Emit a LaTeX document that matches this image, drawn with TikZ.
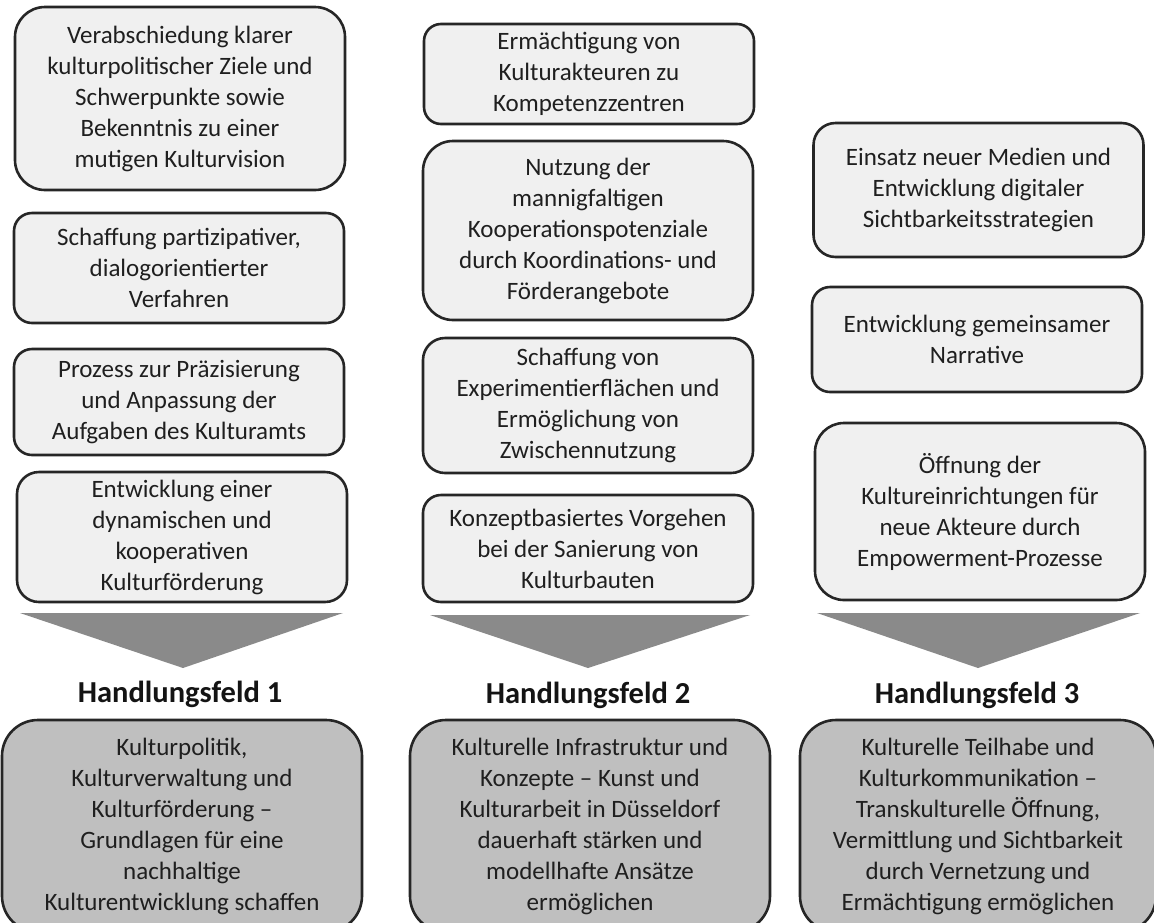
\documentclass[tikz,border=0pt]{standalone}
\usepackage{fontspec}
\setmainfont{Carlito}
\usetikzlibrary{positioning}

\begin{document}
\begin{tikzpicture}[x=1pt,y=-1pt]
    \tikzstyle{massnahme}=[
        draw=black!85,
        line width=2.6pt,
        fill=gray!12,
        text=black!88,
        align=center,
        inner sep=0pt,
        minimum width=330pt,
        font=\fontsize{25}{31}\selectfont]
    \tikzstyle{feld}=[massnahme,fill=gray!50,rounded corners=36pt,minimum height=212pt]
    \tikzstyle{titel}=[text=black!92,font=\fontsize{30.5}{36}\selectfont\bfseries]
    \tikzstyle{pfeil}=[fill=black!46]

    \clip (0,0) rectangle (1154,922);

    \node[massnahme] [rounded corners=30pt,minimum height=183pt] (a1) at (180,98.5)
        {Verabschiedung klarer\\kulturpolitischer Ziele und\\Schwerpunkte sowie\\Bekenntnis zu einer\\mutigen Kulturvision};
    \node[massnahme] [rounded corners=18pt,minimum height=110pt] (a2) at (179,268)
        {Schaffung partizipativer,\\dialogorientierter\\Verfahren};
    \node[massnahme] [rounded corners=18pt,minimum height=106pt] (a3) at (179,402)
        {Prozess zur Präzisierung\\und Anpassung der\\Aufgaben des Kulturamts};
    \node[massnahme] [rounded corners=22pt,minimum height=130pt] (a4) at (182,537)
        {Entwicklung einer\\dynamischen und\\kooperativen\\Kulturförderung};

    \node[massnahme] [rounded corners=17pt,minimum height=100pt] (b1) at (589,74)
        {Ermächtigung von\\Kulturakteuren zu\\Kompetenzzentren};
    \node[massnahme] [rounded corners=30pt,minimum height=179pt] (b2) at (588,230.5)
        {Nutzung der\\mannigfaltigen\\Kooperationspotenziale\\durch Koordinations- und\\Förderangebote};
    \node[massnahme] [rounded corners=22pt,minimum height=135pt] (b3) at (588,405.5)
        {Schaffung von\\Experimentierflächen und\\Ermöglichung von\\Zwischennutzung};
    \node[massnahme] [rounded corners=18pt,minimum height=107pt] (b4) at (588,548.5)
        {Konzeptbasiertes Vorgehen\\bei der Sanierung von\\Kulturbauten};

    \node[massnahme] [rounded corners=22pt,minimum height=134pt] (c1) at (978.5,190)
        {Einsatz neuer Medien und\\Entwicklung digitaler\\Sichtbarkeitsstrategien};
    \node[massnahme] [rounded corners=18pt,minimum height=105pt] (c2) at (977,339.5)
        {Entwicklung gemeinsamer\\Narrative};
    \node[massnahme] [rounded corners=29pt,minimum height=177pt] (c3) at (980,511.5)
        {Öffnung der\\Kultureinrichtungen für\\neue Akteure durch\\Empowerment-Prozesse};

    \fill[pfeil] (20,613) -- (343,613) -- (183,668) -- cycle;
    \fill[pfeil] (430,615) -- (750,615) -- (588,668) -- cycle;
    \fill[pfeil] (817,613) -- (1140,613) -- (978,668) -- cycle;

    \node[titel] (t1) at (180,694) {Handlungsfeld 1};
    \node[titel] (t2) at (588,695) {Handlungsfeld 2};
    \node[titel] (t3) at (977,695) {Handlungsfeld 3};

    \node[feld] [minimum width=360pt] (f1) at (182,826)
        {Kulturpolitik,\\Kulturverwaltung und\\Kulturförderung --\\Grundlagen für eine\\nachhaltige\\Kulturentwicklung schaffen};
    \node[feld] [minimum width=360pt] (f2) at (590,826)
        {Kulturelle Infrastruktur und\\Konzepte -- Kunst und\\Kulturarbeit in Düsseldorf\\dauerhaft stärken und\\modellhafte Ansätze\\ermöglichen};
    \node[feld] [minimum width=356pt] (f3) at (978,826)
        {Kulturelle Teilhabe und\\Kulturkommunikation --\\Transkulturelle Öffnung,\\Vermittlung und Sichtbarkeit\\durch Vernetzung und\\Ermächtigung ermöglichen};
\end{tikzpicture}
\end{document}
